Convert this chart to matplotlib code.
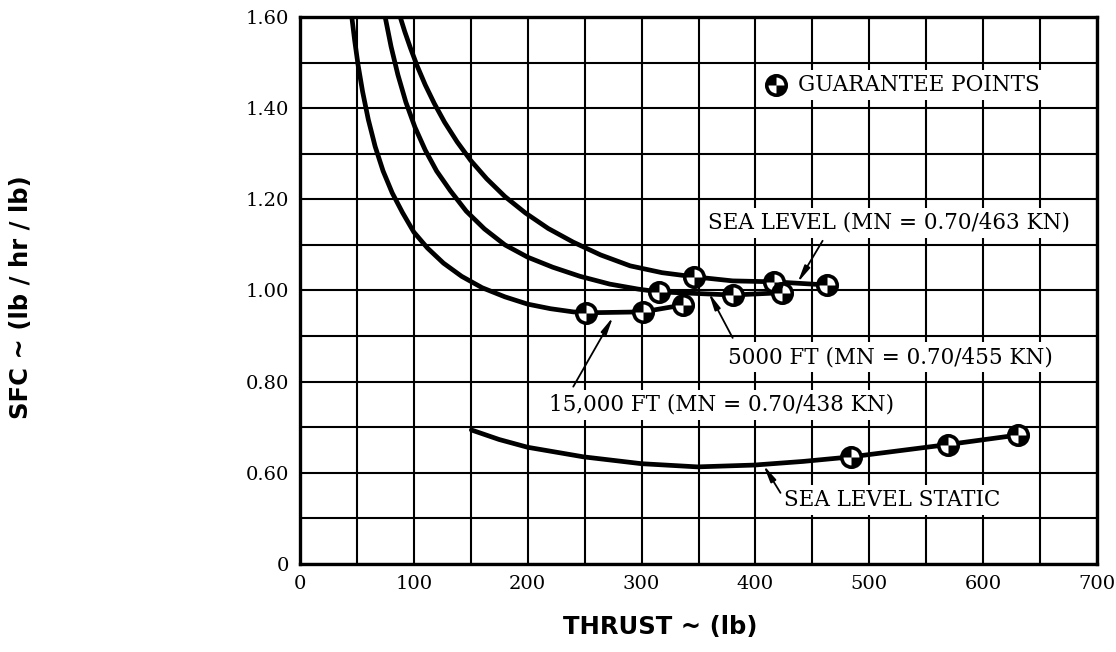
import matplotlib
matplotlib.use("Agg")
import matplotlib.pyplot as plt
from matplotlib.path import Path
from matplotlib.ticker import MultipleLocator, FixedLocator

# ---------------- data ----------------
# Sea level (MN = 0.70/463 KN)
sl_x = [88, 92, 97, 103, 110, 118, 127, 138, 150, 164, 180, 198, 218, 240, 264, 290, 318, 346, 380, 416, 463]
sl_y = [1.600, 1.568, 1.532, 1.492, 1.451, 1.410, 1.369, 1.326, 1.285, 1.245, 1.206, 1.170, 1.136,
        1.106, 1.078, 1.054, 1.039, 1.030, 1.021, 1.019, 1.012]
sl_pts_x = [346, 416, 463]
sl_pts_y = [1.030, 1.019, 1.012]

# 5000 ft (MN = 0.70/455 KN)
ft5_x = [74.8, 80, 86, 93, 101, 110, 120, 132, 146, 162, 180, 200, 222, 246, 272, 297, 315, 380, 423]
ft5_y = [1.600, 1.535, 1.473, 1.413, 1.358, 1.308, 1.262, 1.219, 1.174, 1.135, 1.100, 1.073, 1.051,
         1.031, 1.014, 1.003, 0.997, 0.990, 0.995]
ft5_pts_x = [315, 380, 423]
ft5_pts_y = [0.997, 0.990, 0.995]

# 15,000 ft (MN = 0.70/438 KN)
ft15_x = [45.5, 48, 51, 55, 60, 66, 73, 81, 90, 100, 112, 126, 142, 160, 180, 200, 220, 240, 251, 301, 336]
ft15_y = [1.600, 1.549, 1.495, 1.436, 1.375, 1.316, 1.262, 1.214, 1.171, 1.128, 1.093, 1.060, 1.031,
          1.006, 0.986, 0.970, 0.960, 0.953, 0.951, 0.953, 0.968]
ft15_pts_x = [251, 301, 336]
ft15_pts_y = [0.951, 0.953, 0.968]

# Sea level static
st_x = [150.5, 175, 200, 249, 300, 349, 399, 442, 484, 569, 631]
st_y = [0.694, 0.673, 0.656, 0.635, 0.620, 0.613, 0.617, 0.625, 0.635, 0.662, 0.683]
st_pts_x = [484, 569, 631]
st_pts_y = [0.635, 0.662, 0.683]

x_ticks = [0, 100, 200, 300, 400, 500, 600, 700]
x_tick_labels = ["0", "100", "200", "300", "400", "500", "600", "700"]
y_ticks = [0.4, 0.6, 0.8, 1.0, 1.2, 1.4, 1.6]
y_tick_labels = ["0", "0.60", "0.80", "1.00", "1.20", "1.40", "1.60"]

# ---------------- figure ----------------
fig = plt.figure(figsize=(11.16, 6.52), dpi=100)
ax = fig.add_axes([0.2688, 0.135, 0.7142, 0.839])
ax.set_xlim(0, 700)
ax.set_ylim(0.4, 1.6)

serif = "DejaVu Serif"
ax.xaxis.set_major_locator(FixedLocator(x_ticks))
ax.xaxis.set_minor_locator(MultipleLocator(50))
ax.yaxis.set_major_locator(FixedLocator(y_ticks))
ax.yaxis.set_minor_locator(MultipleLocator(0.1))
ax.set_xticklabels(x_tick_labels, fontfamily=serif, fontsize=14)
ax.set_yticklabels(y_tick_labels, fontfamily=serif, fontsize=14)
ax.tick_params(which="both", length=0)
ax.tick_params(axis="x", pad=8)
ax.tick_params(axis="y", pad=8)
ax.grid(True, which="both", color="black", lw=1.5)
ax.set_axisbelow(True)
for s in ax.spines.values():
    s.set_linewidth(2.4)

line_kw = dict(color="black", lw=3.4, solid_capstyle="round", solid_joinstyle="round", zorder=3)
ax.plot(sl_x, sl_y, **line_kw)
ax.plot(ft5_x, ft5_y, **line_kw)
ax.plot(ft15_x, ft15_y, **line_kw)
ax.plot(st_x, st_y, **line_kw)

quad = Path.make_compound_path(Path.wedge(90, 180), Path.wedge(270, 360))


def guarantee(xs, ys):
    ax.plot(xs, ys, ls="none", marker="o", ms=14, mfc="white", mec="black",
            mew=2.6, zorder=5)
    ax.plot(xs, ys, ls="none", marker=quad, ms=14, mfc="black", mec="black",
            mew=0, zorder=6)


guarantee(sl_pts_x, sl_pts_y)
guarantee(ft5_pts_x, ft5_pts_y)
guarantee(ft15_pts_x, ft15_pts_y)
guarantee(st_pts_x, st_pts_y)

box = dict(facecolor="white", edgecolor="none", pad=3)
tkw = dict(fontfamily=serif, fontsize=15.5, va="center", ha="left", zorder=7, bbox=box)

# legend
guarantee([418], [1.451])
ax.text(437, 1.451, "GUARANTEE POINTS", **tkw)

ax.text(358, 1.148, "SEA LEVEL (MN = 0.70/463 KN)", **tkw)
ax.text(376, 0.854, "5000 FT (MN = 0.70/455 KN)", **tkw)
ax.text(219, 0.749, "15,000 FT (MN = 0.70/438 KN)", **tkw)
ax.text(425, 0.541, "SEA LEVEL STATIC", **tkw)

akw = dict(arrowstyle="-|>,head_length=1.0,head_width=0.18", lw=1.3, color="black",
           shrinkA=0, shrinkB=0)
ax.annotate("", xy=(437, 1.017), xytext=(459, 1.109), arrowprops=akw, zorder=8)
ax.annotate("", xy=(359, 0.995), xytext=(380, 0.896), arrowprops=akw, zorder=8)
ax.annotate("", xy=(275, 0.942), xytext=(240, 0.789), arrowprops=akw, zorder=8)
ax.annotate("", xy=(407, 0.617), xytext=(422, 0.556), arrowprops=akw, zorder=8)

# axis titles
fig.text(0.592, 0.038, "THRUST ~ (lb)", fontfamily="DejaVu Sans", fontweight="bold",
         fontsize=17.5, ha="center", va="center")
fig.text(0.019, 0.545, "SFC ~ (lb / hr / lb)", fontfamily="DejaVu Sans", fontweight="bold",
         fontsize=17.5, ha="center", va="center", rotation=90)

fig.savefig("out.png", dpi=100, facecolor="white")
